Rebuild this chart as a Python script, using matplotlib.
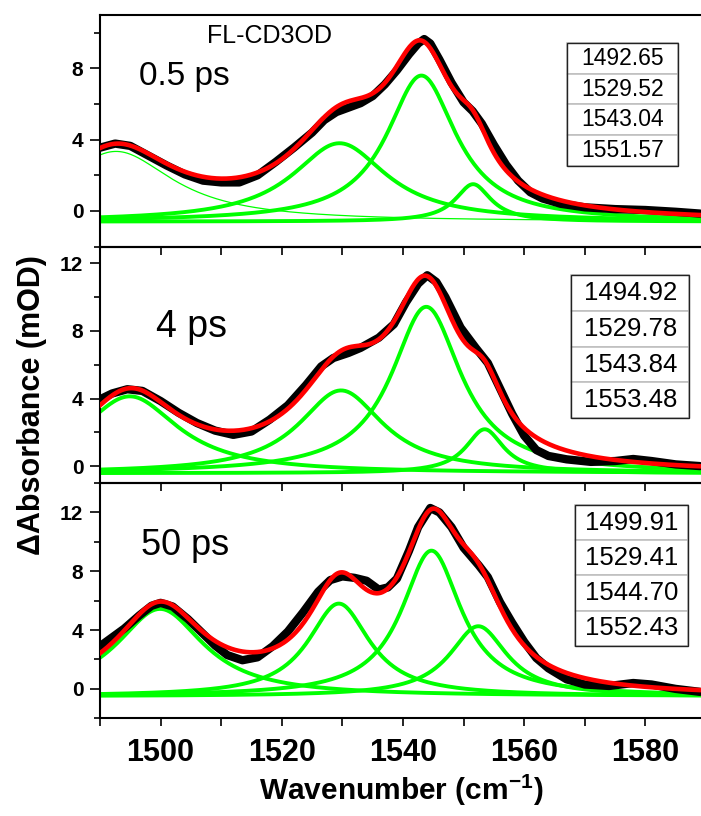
import numpy as np
import matplotlib
matplotlib.use('Agg')
import matplotlib.pyplot as plt
from matplotlib.ticker import MultipleLocator
from matplotlib.patches import Rectangle

plt.rcParams['font.family'] = ['Liberation Sans', 'DejaVu Sans']
plt.rcParams['mathtext.fontset'] = 'custom'
plt.rcParams['mathtext.rm'] = 'Liberation Sans'
plt.rcParams['mathtext.bf'] = 'Liberation Sans:bold'

wn_05 = [1490, 1492.5, 1495, 1498, 1501, 1504, 1507, 1510, 1513, 1516, 1519,
         1522, 1525, 1527, 1529, 1531, 1533, 1535, 1537, 1539, 1541, 1542.5,
         1543.5, 1544.5, 1546, 1548, 1550, 1551.5, 1553, 1555, 1557, 1559,
         1561, 1563, 1566, 1570, 1575, 1580, 1585, 1589]
abs_05 = [3.55, 3.78, 3.65, 3.1, 2.55, 2.05, 1.7, 1.6, 1.6, 2.0, 2.75,
          3.55, 4.4, 5.1, 5.55, 5.8, 6.05, 6.45, 7.1, 7.9, 8.8, 9.4,
          9.65, 9.4, 8.5, 7.2, 6.1, 5.6, 4.9, 3.7, 2.6, 1.7,
          1.05, 0.7, 0.4, 0.2, 0.1, 0.05, -0.05, -0.15]
# fitted bands: centre, height, half width
cen_05 = [1492.65, 1529.52, 1543.04, 1551.57]
hgt_05 = [3.94, 4.4, 8.2, 2.1]
hw_05 = [11.5, 9.5, 7.0, 3.6]
base_05 = -0.6

# ---- 4 ps ----
wn_4 = [1490, 1492, 1494.5, 1497, 1500, 1503, 1506, 1509, 1512, 1515, 1518,
        1521, 1524, 1526.5, 1528.5, 1531, 1533, 1536, 1538.5, 1540.5, 1542.5,
        1544, 1545.5, 1547, 1549.5, 1552, 1554, 1556, 1558, 1560, 1562, 1564,
        1567, 1571, 1575, 1578, 1581, 1585, 1589]
abs_4 = [3.95, 4.3, 4.55, 4.45, 3.85, 3.15, 2.55, 2.1, 1.85, 2.05, 2.75,
         3.6, 4.8, 5.9, 6.4, 6.7, 7.0, 7.6, 8.4, 9.7, 10.8,
         11.3, 10.9, 10.0, 8.2, 7.0, 6.1, 4.6, 3.1, 1.8, 0.95, 0.6,
         0.4, 0.25, 0.3, 0.42, 0.3, 0.1, 0.0]
cen_4 = [1494.92, 1529.78, 1543.84, 1553.48]
hgt_4 = [4.55, 4.9, 9.85, 2.6]
hw_4 = [9.8, 8.5, 7.0, 3.8]
base_4 = -0.42

# ---- 50 ps ----
wn_50 = [1490, 1492, 1494, 1496.5, 1498.5, 1500, 1502, 1504.5, 1507, 1509,
         1511, 1513.5, 1516, 1518.5, 1521, 1523.5, 1526, 1528, 1530, 1532,
         1534, 1536, 1537.5, 1539, 1541, 1542.5, 1544.5, 1546, 1548, 1550,
         1552.5, 1554, 1556, 1558, 1560, 1562, 1564, 1567, 1570, 1574, 1578,
         1581, 1585, 1589]
abs_50 = [2.9, 3.5, 4.1, 5.0, 5.65, 5.85, 5.6, 4.75, 3.75, 2.95,
          2.3, 1.95, 2.15, 2.9, 3.9, 5.2, 6.6, 7.4, 7.65, 7.55,
          7.35, 6.75, 6.9, 7.5, 9.4, 11.0, 12.3, 12.0, 11.0, 9.6,
          8.4, 7.6, 5.9, 4.5, 3.2, 2.1, 1.4, 0.65, 0.3, 0.2, 0.4,
          0.3, 0.0, -0.2]
cen_50 = [1499.91, 1529.41, 1544.70, 1552.43]
hgt_50 = [5.94, 6.3, 9.9, 4.76]
hw_50 = [8.8, 6.2, 6.0, 5.8]
base_50 = -0.5


def lorentz(x, c, h, w):
    return h / (1 + ((x - c) / w) ** 2)


def draw_panel(ax, wn, absorb, cen, hgt, hw, base, thin_first, ylim):
    x = np.linspace(1490, 1592, 500)
    total = np.full_like(x, base)
    for i in range(len(cen)):
        band = lorentz(x, cen[i], hgt[i], hw[i])
        total = total + band
        lw = 0.9 if (thin_first and i == 0) else 2.8
        ax.plot(x, band + base, color='#00ff00', lw=lw, zorder=2)
    ax.plot(wn, absorb, color='black', lw=6, solid_joinstyle='round',
            solid_capstyle='round', zorder=3)
    ax.plot(x, total, color='red', lw=3.3, zorder=4)

    ax.set_xlim(1490, 1590)
    ax.set_ylim(ylim)
    ax.set_facecolor('none')
    ax.xaxis.set_major_locator(MultipleLocator(20))
    ax.xaxis.set_minor_locator(MultipleLocator(10))
    ax.yaxis.set_major_locator(MultipleLocator(4))
    ax.yaxis.set_minor_locator(MultipleLocator(2))
    ax.tick_params(which='both', direction='out', width=1.2, top=False, right=False)
    ax.tick_params(axis='x', which='both', length=6)
    ax.tick_params(axis='y', which='major', length=7, pad=5)
    ax.tick_params(axis='y', which='minor', length=4)
    for lab in ax.get_yticklabels():
        lab.set_fontsize(15)
        lab.set_fontweight('bold')
    for s in ax.spines.values():
        s.set_linewidth(1.5)


def draw_table(ax, cen, box, size):
    tab = ax.table(cellText=[['%.2f' % c] for c in cen], cellLoc='center',
                   bbox=box, zorder=6)
    tab.auto_set_font_size(False)
    for cell in tab.get_celld().values():
        cell.set_edgecolor('#c0c0c0')
        cell.set_linewidth(1.2)
        cell.get_text().set_fontsize(size)
    ax.add_patch(Rectangle((box[0], box[1]), box[2], box[3], fill=False,
                           edgecolor='#222222', lw=1.0, transform=ax.transAxes,
                           zorder=7))


def main():
    fig = plt.figure(figsize=(7.01, 8.16), dpi=100)
    left = 100 / 701
    width = 606 / 701

    ax3 = fig.add_axes([left, 0.1197, width, 0.2884])
    ax2 = fig.add_axes([left, 0.4081, width, 0.2898])
    ax1 = fig.add_axes([left, 0.6979, width, 0.2837])

    draw_panel(ax3, wn_50, abs_50, cen_50, hgt_50, hw_50, base_50, False, (-2, 14))
    draw_panel(ax2, wn_4, abs_4, cen_4, hgt_4, hw_4, base_4, False, (-1, 13))
    draw_panel(ax1, wn_05, abs_05, cen_05, hgt_05, hw_05, base_05, True, (-2, 11))

    ax1.tick_params(axis='x', labelbottom=False)
    ax2.tick_params(axis='x', labelbottom=False)
    ax3.tick_params(axis='x', pad=8)
    for lab in ax3.get_xticklabels():
        lab.set_fontsize(22)
        lab.set_fontweight('bold')

    ax1.text(0.279, 0.879, 'FL-CD3OD', transform=ax1.transAxes, ha='center',
             va='baseline', fontsize=18)
    ax1.text(0.064, 0.698, '0.5 ps', transform=ax1.transAxes, ha='left',
             va='baseline', fontsize=24)
    ax2.text(0.092, 0.619, '4 ps', transform=ax2.transAxes, ha='left',
             va='baseline', fontsize=27)
    ax3.text(0.068, 0.694, '50 ps', transform=ax3.transAxes, ha='left',
             va='baseline', fontsize=26)

    draw_table(ax1, cen_05, [0.771, 0.348, 0.183, 0.531], 16.5)
    draw_table(ax2, cen_4, [0.778, 0.274, 0.194, 0.605], 18.5)
    draw_table(ax3, cen_50, [0.784, 0.307, 0.187, 0.600], 18.5)

    fig.text(0.046, 0.503, '\u0394Absorbance (mOD)', rotation=90, ha='center',
             va='center', fontsize=22, fontweight='bold')
    fig.text(0.573, 0.032, r'Wavenumber (cm$^{\mathbf{-1}}$)', ha='center',
             va='center', fontsize=21.5, fontweight='bold')

    fig.savefig('out.png', dpi=100)


if __name__ == "__main__":
    main()
